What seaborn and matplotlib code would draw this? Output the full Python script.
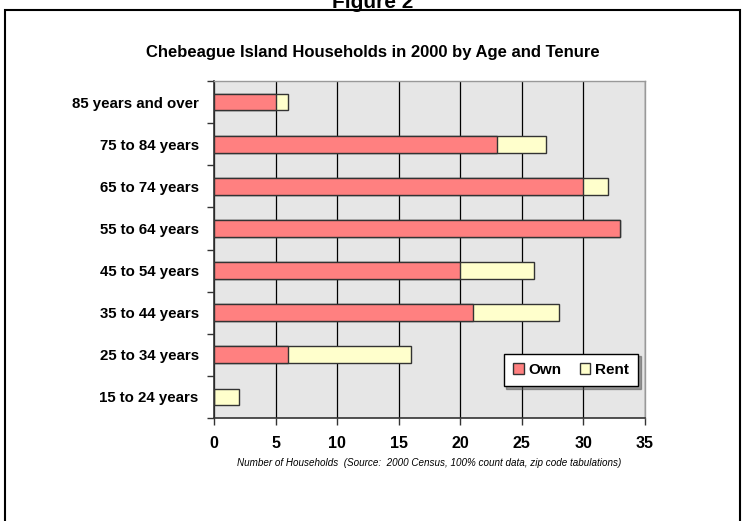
import matplotlib
matplotlib.use("Agg")
import matplotlib.pyplot as plt
import seaborn as sns
import pandas as pd
import numpy as np
from matplotlib.patches import Rectangle
from matplotlib.ticker import FixedLocator

categories = ["85 years and over", "75 to 84 years", "65 to 74 years", "55 to 64 years",
              "45 to 54 years", "35 to 44 years", "25 to 34 years", "15 to 24 years"]
own = [5, 23, 30, 33, 20, 21, 6, 0]
rent = [1, 4, 2, 0, 6, 7, 10, 2]
xticks = [0, 5, 10, 15, 20, 25, 30, 35]

sns.set_theme(style="white")
plt.rcParams['font.family'] = ['Liberation Sans', 'DejaVu Sans']
plt.rcParams['text.color'] = 'black'
plt.rcParams['xtick.color'] = 'black'
plt.rcParams['ytick.color'] = 'black'
plt.rcParams['axes.labelcolor'] = 'black'

df = pd.DataFrame({"cat": categories, "own": own, "rent": rent})
df["total"] = df["own"] + df["rent"]

fig = plt.figure(figsize=(7.45, 5.21), dpi=100)
ax = fig.add_axes([214/745, 1-418/521, (645-214)/745, (418-81)/521])
ax.set_facecolor("#e6e6e6")

sns.barplot(data=df, y="cat", x="total", order=categories, orient="h", ax=ax,
            color="#FFFFCC", edgecolor="#333333", linewidth=1.0, width=0.4, saturation=1)
sns.barplot(data=df, y="cat", x="own", order=categories, orient="h", ax=ax,
            color="#FF8080", edgecolor="#333333", linewidth=1.0, width=0.4, saturation=1)

ax.set_xlim(0, 35)
ax.set_ylim(7.5, -0.5)
ax.set_xticks(xticks)
ax.set_xticklabels([str(t) for t in xticks], fontsize=11.5, fontweight="bold")
ax.set_yticklabels(categories, fontsize=10.8, fontweight="bold")
ax.tick_params(axis="y", which="major", length=0, pad=11)
ax.yaxis.set_minor_locator(FixedLocator(np.arange(-0.5, 8.0, 1.0)))
ax.tick_params(axis="y", which="minor", length=5, width=1, color="#333333", left=True)
ax.tick_params(axis="x", which="major", length=5, width=1, color="#333333", bottom=True, pad=8)
ax.grid(axis="x", color="black", linewidth=0.9)
ax.set_axisbelow(True)
for s in ["top", "right"]:
    ax.spines[s].set_color("#999999")
    ax.spines[s].set_linewidth(1)
for s in ["left", "bottom"]:
    ax.spines[s].set_color("#333333")
    ax.spines[s].set_linewidth(1.2)
ax.set_ylabel("")
ax.set_xlabel("Number of Households  (Source:  2000 Census, 100% count data, zip code tabulations)",
              fontsize=7.1, fontstyle="italic", labelpad=5)

leg_handles = [Rectangle((0, 0), 1, 1, facecolor="#FF8080", edgecolor="#333333"),
               Rectangle((0, 0), 1, 1, facecolor="#FFFFCC", edgecolor="#333333")]
leg = ax.legend(leg_handles, ["Own", "Rent"], loc="upper left",
                bbox_to_anchor=((496-214)/431, 1-(346-81)/337), ncol=2,
                frameon=True, fancybox=False, shadow=True, framealpha=1,
                prop={"weight": "bold", "size": 11}, handlelength=0.7, handleheight=0.7,
                handletextpad=0.3, columnspacing=1.2, borderpad=0.6)
leg.get_frame().set_edgecolor("black")
leg.get_frame().set_linewidth(1)

fig.text(373/745, 1-53/521, "Chebeague Island Households in 2000 by Age and Tenure",
         ha="center", va="center", fontsize=12, fontweight="bold")
fig.text(373/745, 1-2/521, "Figure 2", ha="center", va="center", fontsize=15, fontweight="bold")

frame = Rectangle((5/745, -0.05), 735/745, 1-10/521+0.05, transform=fig.transFigure,
                  fill=False, edgecolor="black", linewidth=1.5)
fig.add_artist(frame)

fig.savefig("out.png", dpi=100)
